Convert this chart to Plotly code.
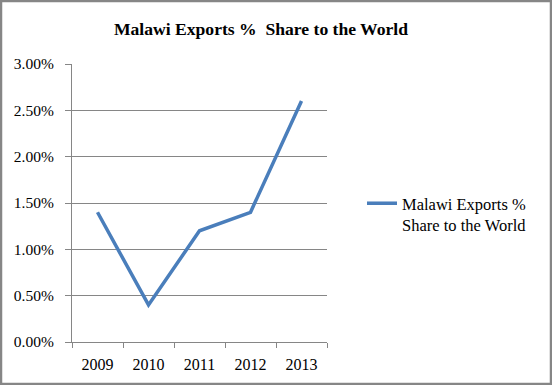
import plotly.graph_objects as go

years = ["2009", "2010", "2011", "2012", "2013"]
share = [0.014, 0.004, 0.012, 0.014, 0.026]
series_name = "Malawi Exports %<br>Share to the World"
title_text = "Malawi Exports %  Share to the World"
y_ticks = [0, 0.005, 0.01, 0.015, 0.02, 0.025, 0.03]

W, H = 552, 385
L, R, T, B = 72, 327, 64, 342

fig = go.Figure()
fig.add_trace(go.Scatter(x=years, y=share, mode="lines", name=series_name,
                         line=dict(color="#4A7EBB", width=3.5), showlegend=True))

pw, ph = R - L, B - T
def px(x): return (x - L) / pw
def py(y): return (B - y) / ph

fig.update_layout(
    width=W, height=H,
    margin=dict(l=L, r=W - R, t=T, b=H - B, autoexpand=False),
    paper_bgcolor="white", plot_bgcolor="white",
    title=dict(text="<b>" + title_text + "</b>", x=261 / W, xanchor="center",
               y=1 - 29 / H, yanchor="middle", xref="container", yref="container",
               font=dict(family="Liberation Serif", size=17.6, color="black")),
    font=dict(family="Liberation Serif", size=16, color="black"),
    xaxis=dict(showgrid=False, showline=True, linecolor="#868686", linewidth=1,
               range=[-0.5, 4.5],
               ticks="outside", ticklen=5, tickcolor="#868686",
               tickson="boundaries", fixedrange=True, ticklabelstandoff=8,
               tickfont=dict(family="Liberation Serif", size=16)),
    yaxis=dict(range=[0, 0.03], tickvals=y_ticks, tickformat=".2%",
               showgrid=True, gridcolor="#868686", gridwidth=1,
               showline=True, linecolor="#868686", linewidth=1,
               ticks="outside", ticklen=6, tickcolor="#868686",
               zeroline=False, ticklabelstandoff=8, fixedrange=True,
               tickfont=dict(family="Liberation Serif", size=15.5)),
    legend=dict(x=px(362), y=py(186), xanchor="left", yanchor="top",
                valign="top", bgcolor="rgba(0,0,0,0)",
                font=dict(family="Liberation Serif", size=16.5, color="black")),
    shapes=[dict(type="rect", xref="paper", yref="paper",
                 x0=px(1), x1=px(551), y0=py(384), y1=py(1),
                 line=dict(color="#868686", width=2.5), layer="below")],
)

fig.write_html("out.html", config={"displayModeBar": False},
               post_script="document.body.style.margin='0';")
